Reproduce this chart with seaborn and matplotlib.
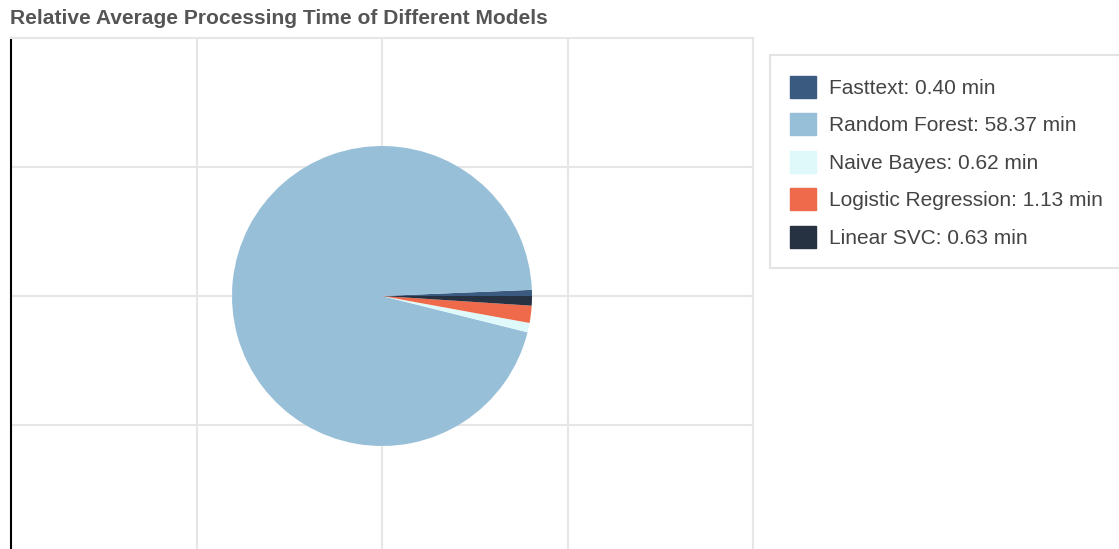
import matplotlib
matplotlib.use("Agg")
import matplotlib.pyplot as plt
import seaborn as sns
from matplotlib.patches import Rectangle, Patch

models = ["Fasttext", "Random Forest", "Naive Bayes", "Logistic Regression", "Linear SVC"]
minutes = [0.40, 58.37, 0.62, 1.13, 0.63]
colors = ["#3b5a80", "#98bfd8", "#dff8fa", "#ee6a4b", "#263142"]
title = "Relative Average Processing Time of Different Models"

sns.set_theme(style="white")
plt.rcParams["font.family"] = ["Liberation Sans", "DejaVu Sans"]

W, H = 1119, 549
fig = plt.figure(figsize=(W / 100, H / 100), dpi=100)
fig.patch.set_facecolor("white")

def fx(px):
    return px / W

def fy(py):
    return 1 - py / H

# background grid axes
gl, gr, gt = 11, 753, 38
gax = fig.add_axes([fx(gl), 0, fx(gr) - fx(gl), fy(gt)])
unit_y = 129
gax.set_xlim(0, 4)
gax.set_ylim((H - gt) / unit_y, 0)
gax.set_xticks([1, 2, 3])
gax.set_yticks([1, 2, 3])
gax.tick_params(left=False, bottom=False, labelleft=False, labelbottom=False)
gax.grid(True, color="#e6e6e6", linewidth=1.5)
for s in ["top", "right"]:
    gax.spines[s].set_color("#e6e6e6")
    gax.spines[s].set_linewidth(1.5)
gax.spines["bottom"].set_visible(False)
gax.spines["left"].set_color("black")
gax.spines["left"].set_linewidth(1.5)
gax.set_facecolor("white")

# pie axes
cx, cy, r = 382, 296, 150
pax = fig.add_axes([fx(cx - r), fy(cy + r), fx(2 * r), fy(cy - r) - fy(cy + r)])
pax.pie(minutes, colors=colors, startangle=0, counterclock=True,
        wedgeprops=dict(linewidth=0))
pax.set_xlim(-1, 1)
pax.set_ylim(-1, 1)
pax.set_aspect("equal")
pax.axis("off")

# title
fig.text(fx(10), fy(18.5), title, fontsize=15.1, fontweight="bold", color="#555555",
         ha="left", va="center")

# legend frame
frame = Rectangle((fx(770), fy(268)), fx(W + 20) - fx(770), fy(55) - fy(268),
                  transform=fig.transFigure, facecolor="white",
                  edgecolor="#e3e3e3", linewidth=1.5, zorder=5)
fig.patches.append(frame)

handles = [Patch(facecolor=c, edgecolor=c) for c in colors]
labels = [f"{m}: {v:.2f} min" for m, v in zip(models, minutes)]
leg = fig.legend(handles, labels, loc="upper left",
                 bbox_to_anchor=(fx(780), fy(65.5)), frameon=False,
                 fontsize=15, handlelength=1.25, handleheight=1.25,
                 handletextpad=0.62, labelspacing=0.74, borderpad=0,
                 labelcolor="#444444")
leg.set_zorder(6)

fig.savefig("out.png", dpi=100, facecolor="white")
